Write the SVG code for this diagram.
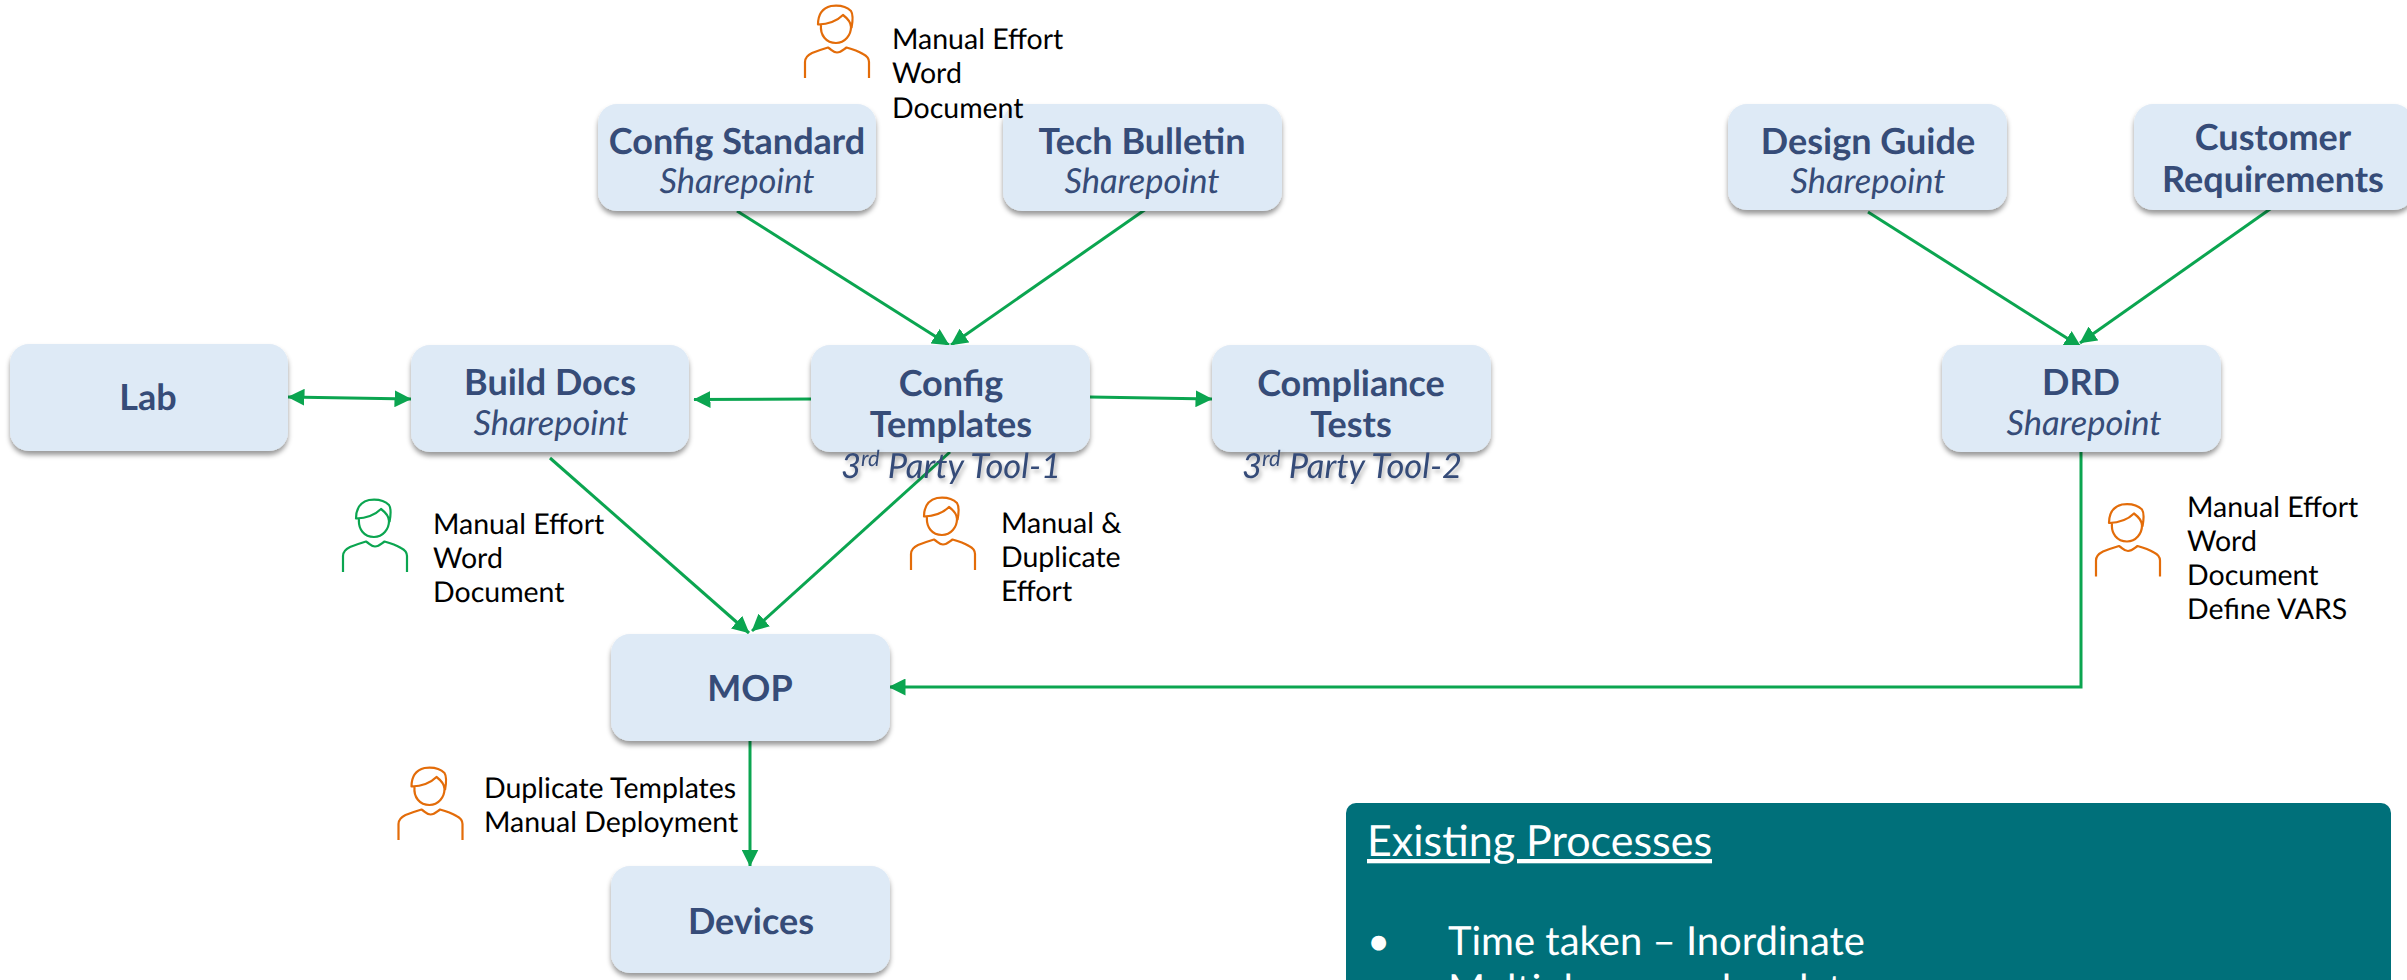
<svg xmlns="http://www.w3.org/2000/svg" width="2407" height="980" viewBox="0 0 2407 980">
<style>
text{text-rendering:geometricPrecision}
.box{fill:#deeaf6;filter:url(#sh)}
.t{font-family:Lato,"Liberation Sans",sans-serif;font-weight:700;font-size:36px;fill:#364c78;text-anchor:middle}
.s{font-family:Lato,"Liberation Sans",sans-serif;font-style:italic;font-size:34.500px;fill:#364c78;text-anchor:middle}
.n{font-family:Lato,"Liberation Sans",sans-serif;font-size:28.500px;fill:#000}
.c{fill:none;stroke:#0ba550;stroke-width:3}
.p{fill:none;stroke-width:2.200}
.w{font-family:Lato,"Liberation Sans",sans-serif;font-size:40px;fill:#fff}
</style>
<defs>
<filter id="sh" x="-10%" y="-10%" width="120%" height="125%"><feDropShadow dx="0" dy="4" stdDeviation="2.500" flood-color="#000" flood-opacity=".4"/></filter>
<filter id="ts" x="-10%" y="-20%" width="120%" height="150%"><feDropShadow dx="2" dy="3" stdDeviation="2" flood-color="#000" flood-opacity=".3"/></filter>
<marker id="a" viewBox="0 0 17 17" refX="16.500" refY="8.500" markerWidth="17" markerHeight="17" markerUnits="userSpaceOnUse" orient="auto-start-reverse"><path d="M0 0L17 8.500L0 17z" fill="#0ba550"/></marker>
<g id="person" fill="none" stroke-linecap="butt" stroke-linejoin="round">
<path d="M10 78V62C10 57 13 55 17 53C22 51 28 49 33 47.500C37 50 38 52.500 42 52.500C46 52.500 48 50 51.500 47.500C57 49 63 51 68 54C72 56 74 58 74 62V78"/>
<path d="M26 25C25 35 31 43 41 43C50 43 56 35 56 27C56 22 52 18 48 15C43 20 36 24 23 24.500C23 14 28 8 36 6C44 5 52 7 56 11C58 14 58 20 56.500 28"/>
</g>
</defs>
<g id="connectors">
<path class="c" d="M737 211L949 345" marker-end="url(#a)"/>
<path class="c" d="M1146 209L951 345" marker-end="url(#a)"/>
<path class="c" d="M288 397L411 399" marker-start="url(#a)" marker-end="url(#a)"/>
<path class="c" d="M812 399L694 399.500" marker-end="url(#a)"/>
<path class="c" d="M1090 397L1212 399" marker-end="url(#a)"/>
<path class="c" d="M550 458L749 633" marker-end="url(#a)"/>
<path class="c" d="M950 452L752 631" marker-end="url(#a)"/>
<path class="c" d="M750 741V866" marker-end="url(#a)"/>
<path class="c" d="M1868 212L2081 347" marker-end="url(#a)"/>
<path class="c" d="M2273 207L2080 343" marker-end="url(#a)"/>
<path class="c" d="M2081 452V687H889" marker-end="url(#a)"/>
</g>
<g id="config-standard"><rect class="box" x="598" y="104" width="278" height="107" rx="19"/><text class="t" x="737" y="154">Config Standard</text><text class="s" x="737" y="193">Sharepoint</text></g>
<g id="tech-bulletin"><rect class="box" x="1003" y="104" width="279" height="107" rx="19"/><text class="t" x="1142" y="154">Tech Bulletin</text><text class="s" x="1142" y="193">Sharepoint</text></g>
<g id="design-guide"><rect class="box" x="1728" y="104" width="279" height="106" rx="19"/><text class="t" x="1868" y="154">Design Guide</text><text class="s" x="1868" y="193">Sharepoint</text></g>
<g id="customer-requirements"><rect class="box" x="2134" y="104" width="279" height="106" rx="19"/><text class="t" x="2273" y="150">Customer</text><text class="t" x="2273" y="192">Requirements</text></g>
<g id="lab"><rect class="box" x="10" y="344" width="278" height="107" rx="19"/><text class="t" x="148" y="410">Lab</text></g>
<g id="build-docs"><rect class="box" x="411" y="345" width="278" height="107" rx="19"/><text class="t" x="550" y="395">Build Docs</text><text class="s" x="551" y="435">Sharepoint</text></g>
<g id="config-templates"><rect class="box" x="811" y="345" width="279" height="107" rx="19"/><text class="t" x="951" y="396">Config</text><text class="t" x="951" y="437">Templates</text><text class="s" x="951" y="478" filter="url(#ts)">3<tspan font-size="22" dy="-12">rd</tspan><tspan dy="12"> Party Tool-1</tspan></text></g>
<g id="compliance-tests"><rect class="box" x="1212" y="345" width="279" height="107" rx="19"/><text class="t" x="1351" y="396">Compliance</text><text class="t" x="1351" y="437">Tests</text><text class="s" x="1352" y="478" filter="url(#ts)">3<tspan font-size="22" dy="-12">rd</tspan><tspan dy="12"> Party Tool-2</tspan></text></g>
<g id="drd"><rect class="box" x="1942" y="345" width="279" height="107" rx="19"/><text class="t" x="2081" y="395">DRD</text><text class="s" x="2084" y="435">Sharepoint</text></g>
<g id="mop"><rect class="box" x="611" y="634" width="279" height="107" rx="19"/><text class="t" x="750" y="701">MOP</text></g>
<g id="devices"><rect class="box" x="611" y="866" width="279" height="107" rx="19"/><text class="t" x="751" y="934">Devices</text></g>
<g id="note-config"><use href="#person" x="795" y="0" stroke="#e36c09" class="p"/><text class="n"><tspan x="892" y="49">Manual Effort</tspan><tspan x="892" y="83">Word</tspan><tspan x="892" y="118">Document</tspan></text></g>
<g id="note-build"><use href="#person" x="333" y="494" stroke="#0ba550" class="p"/><text class="n"><tspan x="433" y="534">Manual Effort</tspan><tspan x="433" y="568">Word</tspan><tspan x="433" y="602">Document</tspan></text></g>
<g id="note-dup"><use href="#person" x="901" y="492" stroke="#e36c09" class="p"/><text class="n"><tspan x="1001" y="533">Manual &amp;</tspan><tspan x="1001" y="567">Duplicate</tspan><tspan x="1001" y="601">Effort</tspan></text></g>
<g id="note-mop"><use href="#person" x="388.500" y="762" stroke="#e36c09" class="p"/><text class="n"><tspan x="484" y="798">Duplicate Templates</tspan><tspan x="484" y="832">Manual Deployment</tspan></text></g>
<g id="note-drd"><use href="#person" x="2086" y="498.500" stroke="#e36c09" class="p"/><text class="n"><tspan x="2187" y="517">Manual Effort</tspan><tspan x="2187" y="551">Word</tspan><tspan x="2187" y="585">Document</tspan><tspan x="2187" y="619">Define VARS</tspan></text></g>
<g id="existing-processes"><rect x="1346" y="803" width="1045" height="200" rx="10" fill="#00707a"/><text class="w" x="1367" y="856" font-size="43" style="font-size:43px" text-decoration="underline">Existing Processes</text><text class="w" x="1367" y="955">•</text><text class="w" x="1448" y="955">Time taken – Inordinate</text><text class="w" x="1448" y="1003">Multiple manual updates</text></g>
</svg>
